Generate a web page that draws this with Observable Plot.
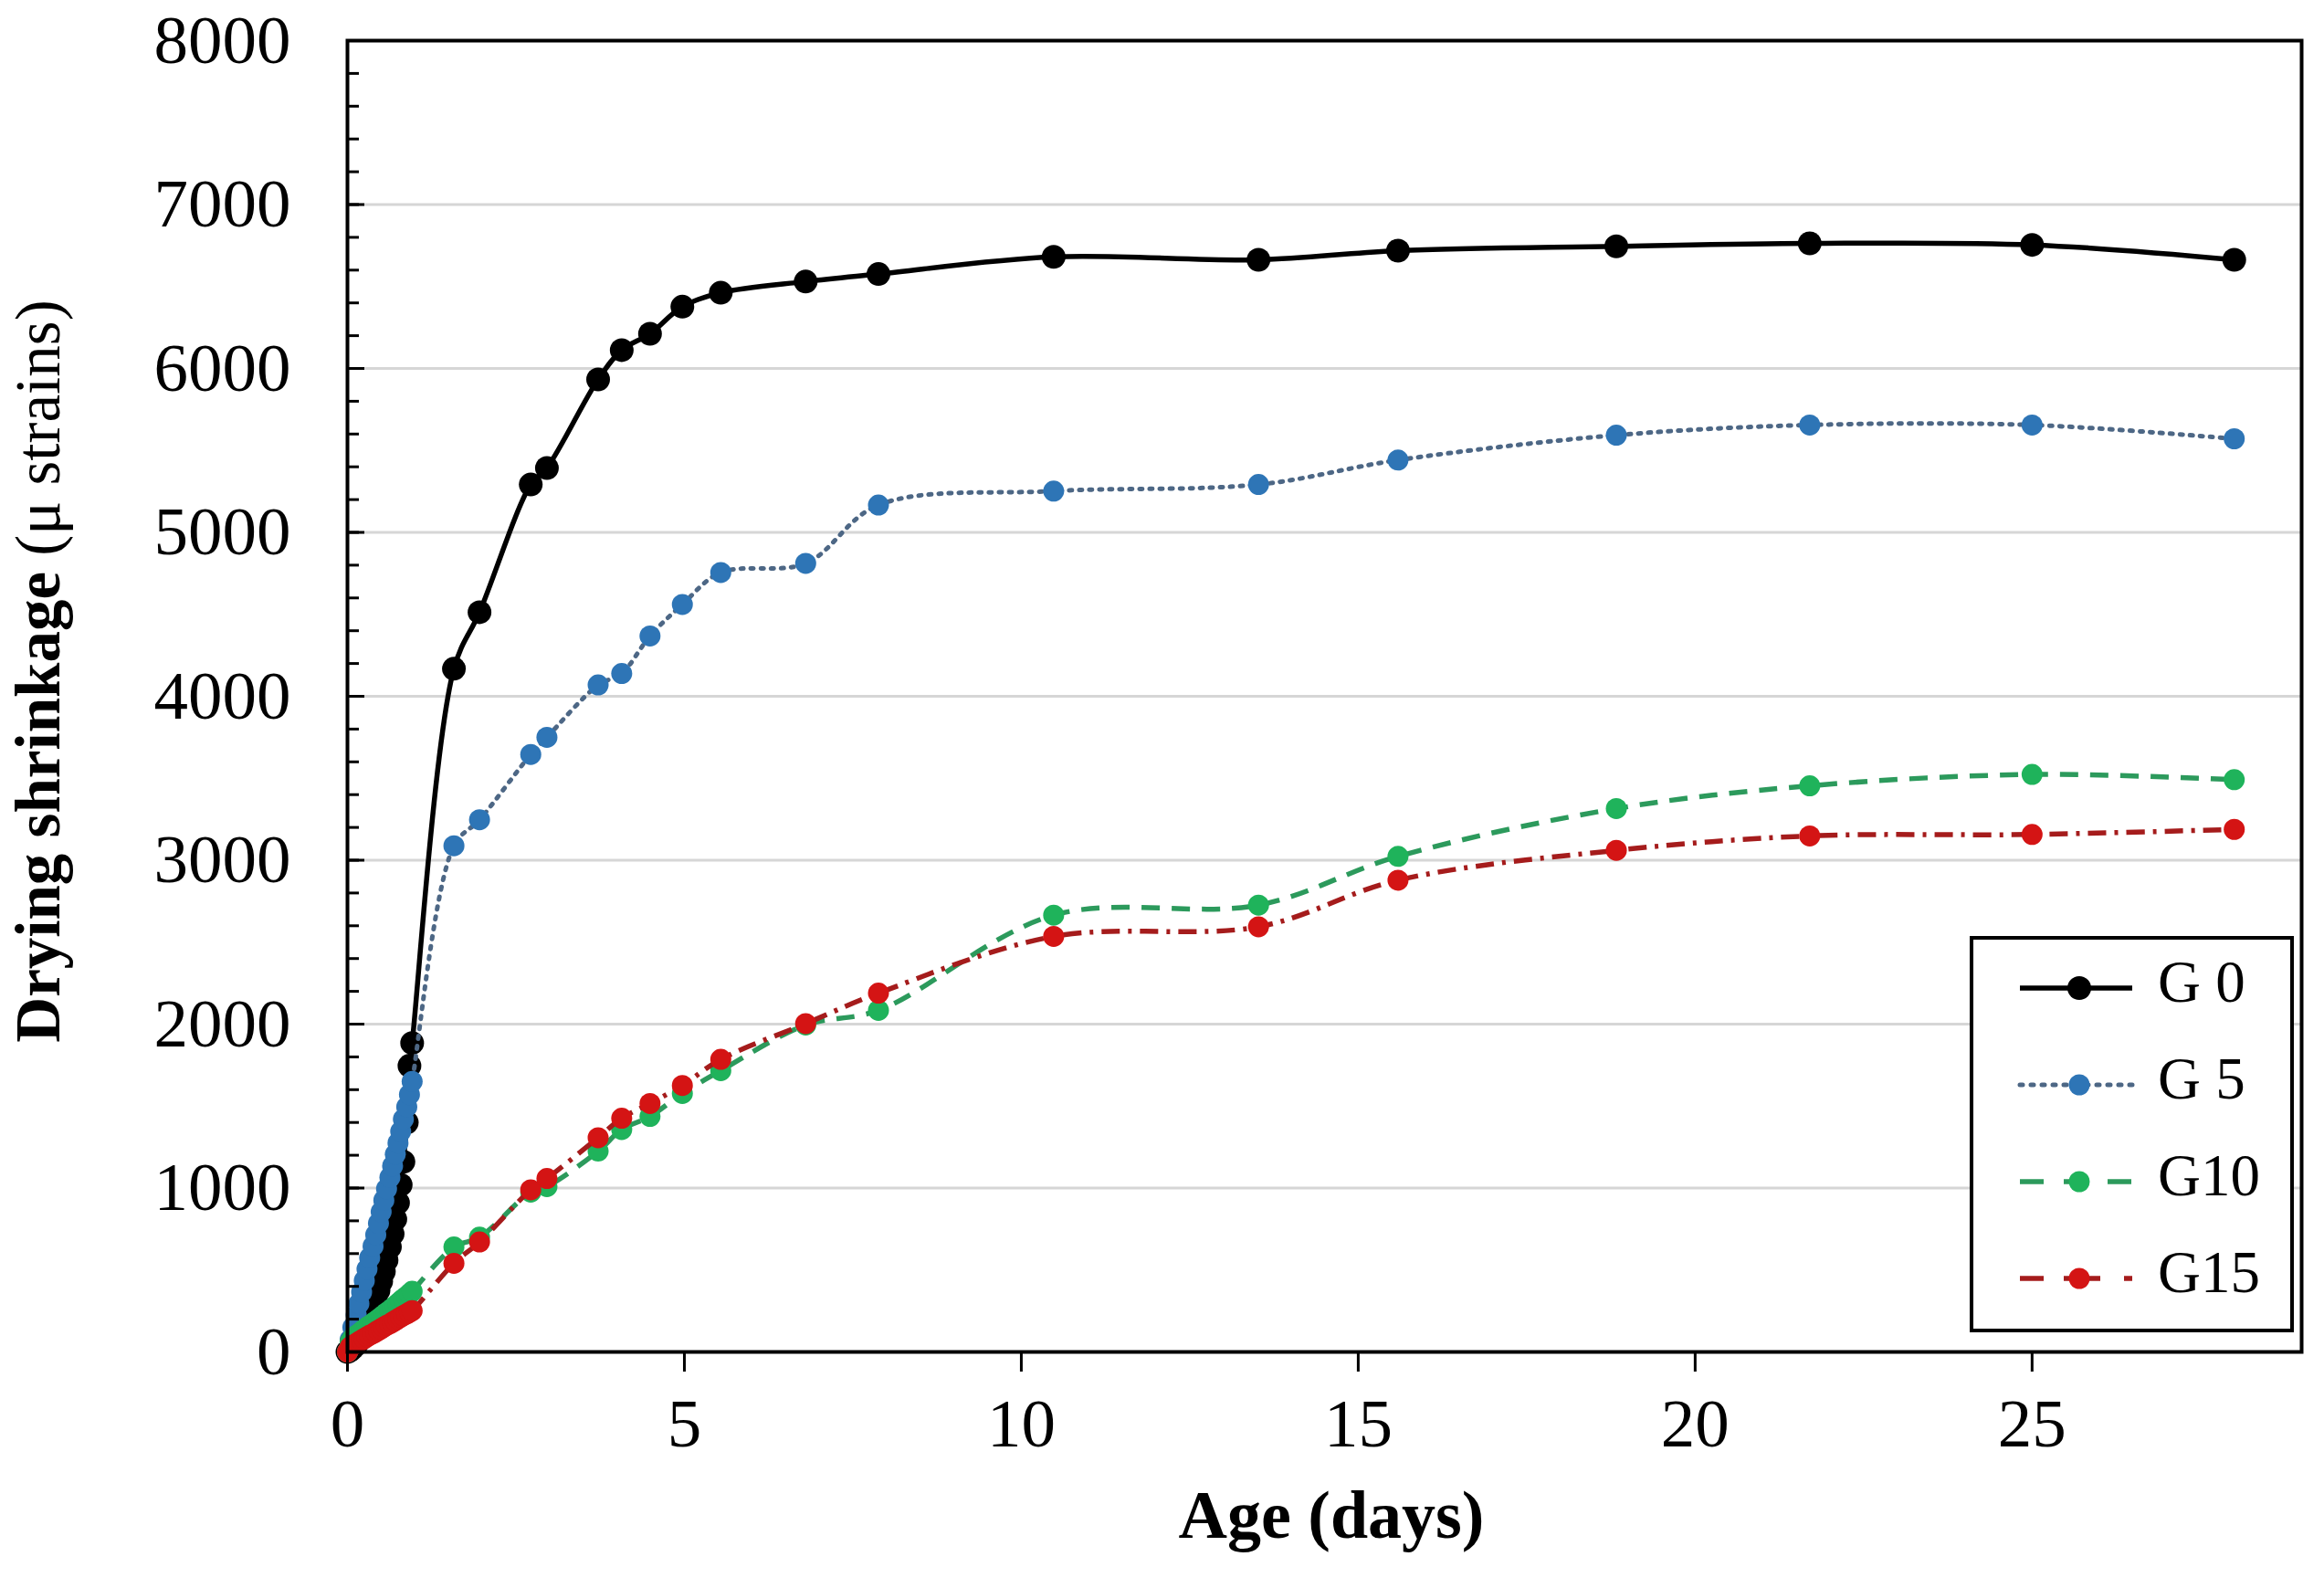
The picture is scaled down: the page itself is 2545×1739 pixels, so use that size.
<!DOCTYPE html>
<html>
<head>
<meta charset="utf-8">
<script src="https://cdn.jsdelivr.net/npm/d3@7"></script>
<script src="https://cdn.jsdelivr.net/npm/@observablehq/plot@0.6"></script>
<style>
  body { margin: 0; background: white; overflow: hidden; }
  #chart { width: 2545px; height: 1739px; }
</style>
</head>
<body>
<div id="chart"></div>
<script>
// ages in days: hourly readings over the first day, then the later readings
const days = [0, 0.04, 0.08, 0.13, 0.17, 0.21, 0.25, 0.29, 0.33, 0.38, 0.42, 0.46,
  0.5, 0.54, 0.58, 0.63, 0.67, 0.71, 0.75, 0.79, 0.83, 0.88, 0.92, 0.96,
  1.58, 1.96, 2.72, 2.96, 3.72, 4.07, 4.49, 4.97, 5.54, 6.8, 7.88,
  10.48, 13.52, 15.59, 18.83, 21.7, 25, 28];

const g0 = [0, 10, 25, 45, 70, 100, 135, 175, 220, 270, 320, 375,
  430, 490, 560, 640, 720, 810, 910, 1020, 1160, 1400, 1746, 1885,
  4168, 4513, 5292, 5393, 5933, 6112, 6212, 6377, 6462, 6530, 6576,
  6681, 6663, 6719, 6745, 6763, 6754, 6663];

const g5 = [0, 75, 150, 225, 295, 365, 435, 505, 575, 645, 715, 785,
  855, 925, 995, 1065, 1135, 1205, 1275, 1345, 1420, 1495, 1570, 1650,
  3088, 3247, 3645, 3750, 4069, 4139, 4368, 4560, 4755, 4811, 5167,
  5252, 5292, 5441, 5593, 5655, 5655, 5571];

const g10 = [0, 60, 85, 100, 112, 125, 138, 150, 162, 175, 188, 200,
  213, 226, 240, 254, 268, 282, 296, 310, 325, 340, 355, 370,
  640, 700, 975, 1009, 1225, 1357, 1437, 1577, 1716, 1995, 2084,
  2665, 2726, 3023, 3315, 3454, 3523, 3491];

const g15 = [0, 30, 42, 52, 62, 72, 82, 92, 102, 112, 122, 132,
  142, 152, 162, 172, 182, 192, 202, 212, 222, 232, 242, 252,
  541, 671, 989, 1058, 1307, 1426, 1516, 1626, 1785, 2003, 2189,
  2535, 2594, 2878, 3060, 3148, 3157, 3188];

const seriesNames = ["G 0", "G 5", "G10", "G15"];
const yTicks = [0, 1000, 2000, 3000, 4000, 5000, 6000, 7000, 8000];
const xTicks = [0, 5, 10, 15, 20, 25];

const rows = days.map((d, i) => ({ day: d, g0: g0[i], g5: g5[i], g10: g10[i], g15: g15[i] }));

// line styles per series (same order as seriesNames)
const styles = [
  { key: "g0", line: "#000000", dot: "#000000", dash: null, legendDash: null, width: 5.5, r: 13 },
  { key: "g5", line: "#4d6785", dot: "#2e75b6", dash: "3 8", legendDash: "3 9", width: 5, r: 11.5 },
  { key: "g10", line: "#2c9a5c", dot: "#1fb35b", dash: "20 13", legendDash: "26 22", width: 5.5, r: 11.5 },
  { key: "g15", line: "#a51c1c", dot: "#d41414", dash: "20 9 4 9", legendDash: "26 22 40", width: 5.5, r: 11.5 }
];

const serif = "'Liberation Serif', 'Times New Roman', serif";

const seriesMarks = styles.flatMap(s => [
  Plot.line(rows, { x: "day", y: s.key, curve: "catmull-rom", stroke: s.line,
    strokeWidth: s.width, strokeDasharray: s.dash, strokeLinecap: s.key == "g5" ? "round" : "butt" }),
  Plot.dot(rows, { x: "day", y: s.key, r: s.r, fill: s.dot, stroke: "none" })
]);

const chart = Plot.plot({
  width: 2545,
  height: 1739,
  marginLeft: 380,
  marginRight: 25,
  marginTop: 44,
  marginBottom: 259,
  style: { fontFamily: serif, background: "white", color: "black" },
  x: { domain: [0, 29] },
  y: { domain: [0, 8000] },
  marks: [
    Plot.gridY(yTicks.slice(1, -1), { stroke: "#d6d6d6", strokeOpacity: 1, strokeWidth: 3 }),
    ...seriesMarks,
    Plot.frame({ stroke: "black", strokeWidth: 4 }),
    // inward ticks on the left spine: minor every 200, major every 1000
    Plot.axisY(d3.range(0, 8001, 200), { tickSize: -13, text: null, strokeWidth: 3, label: null }),
    Plot.axisY(yTicks, { tickSize: 0, tickPadding: 0, text: null, label: null }),
    Plot.axisY(yTicks, { tickSize: -19, text: null, strokeWidth: 3, label: null }),
    Plot.axisY(yTicks, { tickSize: 0, tickPadding: 62, fontSize: 75, label: null, tickFormat: d => String(d) }),
    Plot.axisX(xTicks, { tickSize: 22, tickPadding: 28, strokeWidth: 3, fontSize: 75, label: null, tickFormat: d => String(d) })
  ]
});

d3.select("#chart").append(() => chart);

const svg = d3.select(chart);

// axis titles
svg.append("text")
  .attr("x", 1458).attr("y", 1667)
  .attr("text-anchor", "middle").attr("dominant-baseline", "middle")
  .style("font-family", serif).style("font-size", "74px").style("font-weight", "bold")
  .text("Age (days)");

const yTitle = svg.append("text")
  .attr("transform", "translate(49,735) rotate(-90)")
  .attr("text-anchor", "middle").attr("dominant-baseline", "middle")
  .style("font-family", serif).style("font-size", "69px");
yTitle.append("tspan").style("font-weight", "bold").text("Drying shrinkage ");
yTitle.append("tspan").text("(μ strains)");

// legend box
const lg = svg.append("g").attr("transform", "translate(2159,1027)");
lg.append("rect").attr("width", 351).attr("height", 430)
  .attr("fill", "white").attr("stroke", "black").attr("stroke-width", 4);
styles.forEach((s, i) => {
  const y = 55 + i * 106;
  lg.append("line").attr("x1", 53).attr("x2", 176).attr("y1", y).attr("y2", y)
    .attr("stroke", s.line).attr("stroke-width", s.width)
    .attr("stroke-dasharray", s.legendDash)
    .attr("stroke-linecap", s.key == "g5" ? "round" : "butt");
  lg.append("circle").attr("cx", 118).attr("cy", y).attr("r", s.r).attr("fill", s.dot);
  lg.append("text").attr("x", 204).attr("y", y)
    .attr("text-anchor", "start")
    .attr("dominant-baseline", "middle")
    .style("font-family", serif).style("font-size", "65px")
    .text(seriesNames[i]);
});
</script>
</body>
</html>
